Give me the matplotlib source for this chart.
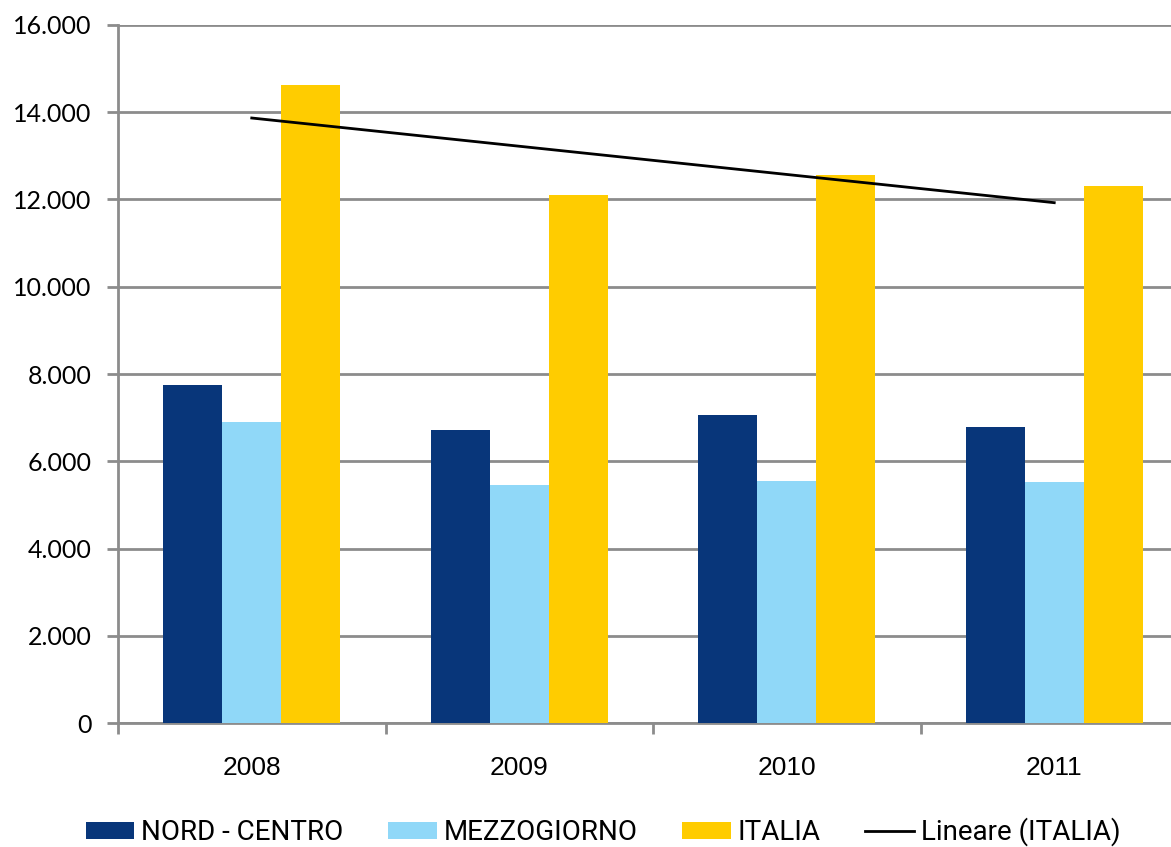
import numpy as np
import matplotlib.pyplot as plt
from matplotlib.ticker import FuncFormatter

years = ['2008', '2009', '2010', '2011']
nord_centro = [7750, 6720, 7060, 6780]
mezzogiorno = [6900, 5460, 5550, 5530]
italia = [14620, 12100, 12560, 12310]

x = np.arange(len(years))
w = 0.22

fig = plt.figure(figsize=(11.71, 8.47), dpi=100)
ax = fig.add_axes([118 / 1171, 124 / 847, 1070 / 1171, 698 / 847])

b1 = ax.bar(x - w, nord_centro, w, color='#08367a', label='NORD - CENTRO', zorder=3)
b2 = ax.bar(x, mezzogiorno, w, color='#90d8f8', label='MEZZOGIORNO', zorder=3)
b3 = ax.bar(x + w, italia, w, color='#ffcc00', label='ITALIA', zorder=3)

# linear trend of ITALIA
k, q = np.polyfit(x + 1, italia, 1)
ln, = ax.plot(x, k * (x + 1) + q, color='black', lw=2, label='Lineare (ITALIA)', zorder=4)

ax.set_xlim(-0.5, 3.5)
ax.set_ylim(0, 16000)
ax.set_yticks(np.arange(0, 16001, 2000))
ax.yaxis.set_major_formatter(FuncFormatter(lambda v, p: f'{int(v):,}'.replace(',', '.')))
ax.grid(axis='y', color='#8c8c8c', lw=2, zorder=0)

ax.set_xticks(np.arange(-0.5, 3.6, 1))
ax.set_xticklabels([])
ax.set_xticks(x, minor=True)
ax.set_xticklabels(years, minor=True, fontsize=19, family=['Liberation Sans', 'DejaVu Sans'])
ax.tick_params(axis='x', which='minor', length=0, pad=24)
ax.tick_params(axis='x', which='major', length=8, width=2, color='#8c8c8c')
ax.tick_params(axis='y', length=8, width=2, color='#8c8c8c', labelsize=18, pad=11)
for t in ax.get_yticklabels():
    t.set_family(['Lato', 'DejaVu Sans'])

for s in ['top', 'right']:
    ax.spines[s].set_visible(False)
for s in ['left', 'bottom']:
    ax.spines[s].set_color('#8c8c8c')
    ax.spines[s].set_linewidth(2)

leg = fig.legend(handles=[b1, b2, b3, ln], loc='center', bbox_to_anchor=(0.515, 1 - 832 / 847),
                 ncol=4, frameon=False,
                 prop={'family': ['Roboto', 'DejaVu Sans'], 'size': 20},
                 handlelength=1.75, handleheight=0.55, handletextpad=0.25, columnspacing=1.6)

fig.savefig('out.png', dpi=100)
